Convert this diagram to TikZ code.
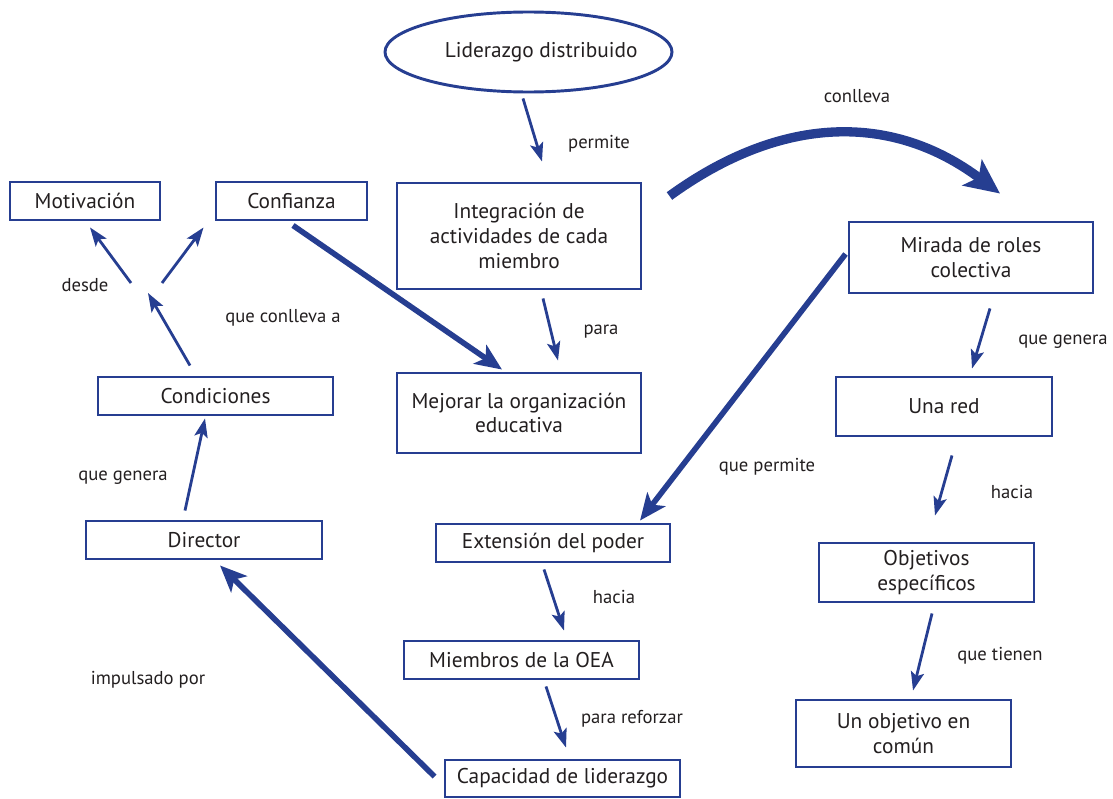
\documentclass[tikz,border=0pt]{standalone}
\usepackage{fontspec}
\setmainfont{PT Sans}
\usetikzlibrary{arrows.meta,shapes.geometric,calc}
\definecolor{cblue}{RGB}{38,62,145}
\definecolor{ctext}{RGB}{35,31,32}
\begin{document}
\begin{tikzpicture}[x=0.75pt,y=-0.75pt,
  box/.style={draw=cblue,line width=2.2pt,rectangle,inner sep=0pt,align=center,text=ctext,font=\fontsize{16}{18.5}\selectfont},
  bw/.style={minimum width={#1*0.75pt}},
  bh/.style={minimum height={#1*0.75pt}},
  lbl/.style={text=ctext,font=\fontsize{14}{16}\selectfont,inner sep=0pt},
  thin/.style={draw=cblue,line width=2.1pt,-{Stealth[length=14pt,width=10pt,inset=3pt]}},
  thick/.style={draw=cblue,line width=4.2pt,-{Stealth[length=20pt,width=17pt,inset=5pt]}},
  huge/.style={draw=cblue,line width=7pt,-{Stealth[length=26pt,width=24pt,inset=6pt]}}]
\useasboundingbox (0,0) rectangle (1113,799);
% nodes
\node[box,ellipse,bw=287,bh=80] (lid) at (528.5,52) {\hspace*{19pt}\makebox[0pt]{Liderazgo distribuido}};
\node[box,bw=150,bh=38] (mot) at (85,201) {Motivación};
\node[box,bw=151,bh=38] (conf) at (291.5,201) {Confianza};
\node[box,bw=244,bh=106] (int) at (519,236) {Integración de\\actividades de cada\\miembro};
\node[box,bw=244,bh=71] (mir) at (971,257.5) {Mirada de roles\\colectiva};
\node[box,bw=235,bh=38] (cond) at (215.5,396) {Condiciones};
\node[box,bw=244,bh=80] (mej) at (519,413) {Mejorar la organización\\educativa};
\node[box,bw=216,bh=59] (red) at (944,406.5) {Una red};
\node[box,bw=236,bh=38] (dir) at (204,540) {Director};
\node[box,bw=234,bh=38] (ext) at (553,543) {Extensión del poder};
\node[box,bw=215,bh=59] (obj) at (926.5,572.5) {Objetivos\\específicos};
\node[box,bw=235,bh=38] (mie) at (521.5,660) {Miembros de la OEA};
\node[box,bw=215,bh=67] (com) at (903.5,733.5) {Un objetivo en\\común};
\node[box,bw=235,bh=37] (cap) at (562.5,778.5) {Capacidad de liderazgo};
\coordinate (br) at (147,288);
% labels
\node[lbl] (l1) at (599,144) {permite};
\node[lbl] (l2) at (857,96) {conlleva};
\node[lbl] (l3) at (601,332) {para};
\node[lbl] (l4) at (283,318) {que conlleva a};
\node[lbl] (l5) at (85,285) {desde};
\node[lbl] (l6) at (123,478) {que genera};
\node[lbl] (l7) at (767,467) {que permite};
\node[lbl] (l8) at (1063,342) {que genera};
\node[lbl] (l9) at (1012,492) {hacia};
\node[lbl] (l10) at (614,597) {hacia};
\node[lbl] (l11) at (148,680) {impulsado por};
\node[lbl] (l12) at (632,719) {para reforzar};
\node[lbl] (l13) at (1000,656) {que tienen};
% connectors
\draw[thin] ([shift={(-5.5,5)}]lid.south) -- ([shift={(23,-20)}]int.north);
\draw[thin] ([shift={(24,8)}]int.south) -- ([shift={(39,-11)}]mej.north);
\draw[thick] ([shift={(1.5,4)}]conf.south) -- ([shift={(-17,-2)}]mej.north);
\draw[thick] ([shift={(-2,-3.5)}]mir.west) -- ([shift={(87,-2)}]ext.north);
\draw[thin] ([shift={(-25.5,-10)}]cond.north) -- ([shift={(1,5)}]br);
\draw[thin] ([shift={(-16,-5)}]br) -- ([shift={(5,6)}]mot.south);
\draw[thin] ([shift={(15,-5)}]br) -- ([shift={(-11,6)}]conf.south west);
\draw[thin] ([shift={(-19,-9)}]dir.north) -- ([shift={(-10.5,2)}]cond.south);
\draw[thick] ([shift={(-9,-2)}]cap.west) -- ([shift={(16,5)}]dir.south);
\draw[thin] ([shift={(-9,6)}]ext.south) -- ([shift={(42.5,-9)}]mie.north);
\draw[thin] ([shift={(24.5,6)}]mie.south) -- ([shift={(3.5,-11)}]cap.north);
\draw[thin] ([shift={(19,14)}]mir.south) -- ([shift={(28,-7)}]red.north);
\draw[thin] ([shift={(8,18)}]red.south) -- ([shift={(8.5,-26)}]obj.north);
\draw[thin] ([shift={(5.5,10)}]obj.south) -- ([shift={(9.5,-8)}]com.north);
\draw[huge] ([shift={(27,-40)}]int.east) .. controls (782.7,113.7) and (893.3,113.3) .. ([shift={(29,-27)}]mir.north);
\end{tikzpicture}
\end{document}
